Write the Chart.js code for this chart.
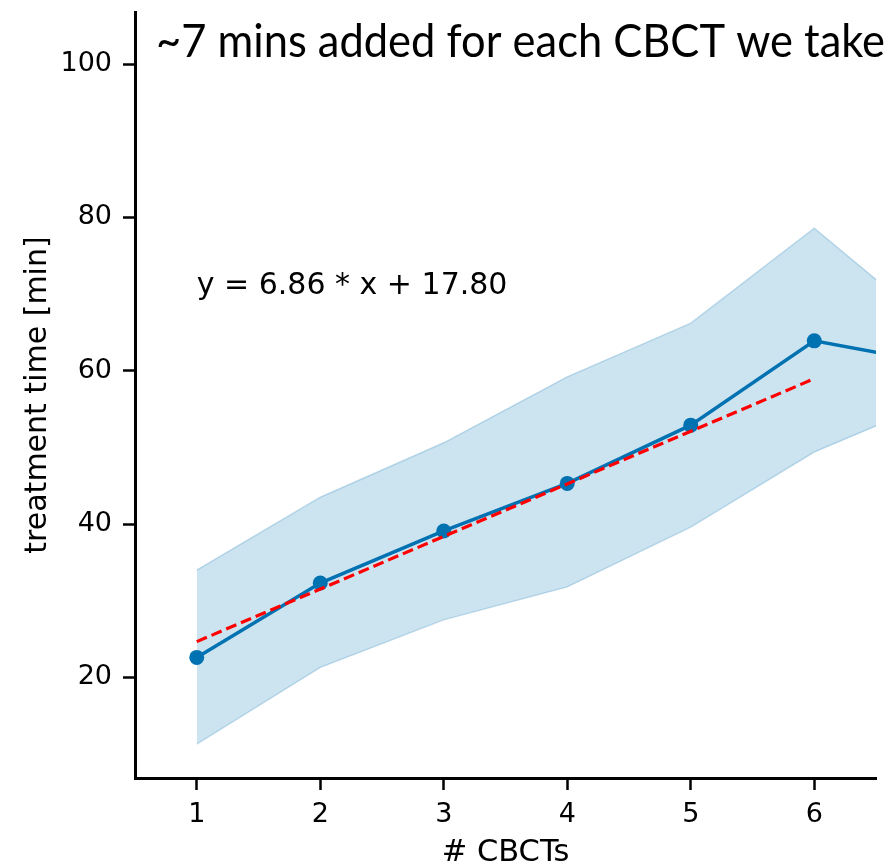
<!DOCTYPE html>
<html>
<head>
<meta charset="utf-8">
<title>Treatment time vs number of CBCTs</title>
<script src="https://cdn.jsdelivr.net/npm/chart.js@4.4.1/dist/chart.umd.min.js"></script>
<style>
  html, body { margin: 0; padding: 0; background: #ffffff; }
  #wrap { width: 896px; height: 865px; }
  canvas { display: block; }
</style>
</head>
<body>
<div id="wrap"><canvas id="chart" width="896" height="865"></canvas></div>
<script>
// Number of CBCTs acquired per treatment
const CBCTS = [1, 2, 3, 4, 5, 6, 7];
// Mean treatment time [min] per CBCT count
const MEAN_TIME = [22.6, 32.3, 39.1, 45.3, 52.9, 63.9, 60.9];
// Spread band around the mean
const BAND_UPPER = [34.0, 43.5, 50.6, 59.2, 66.2, 78.6, 65.2];
const BAND_LOWER = [11.3, 21.3, 27.5, 31.8, 39.6, 49.4, 56.2];
// Linear fit: time = slope * n + intercept
const FIT_SLOPE = 6.86;
const FIT_INTERCEPT = 17.80;
const FIT_X = [1, 6];
// Axis ticks
const X_TICKS = [1, 2, 3, 4, 5, 6];
const Y_TICKS = [20, 40, 60, 80, 100];

const TITLE_TEXT = '~7 mins added for each CBCT we take';
const FIT_LABEL = 'y = ' + FIT_SLOPE.toFixed(2) + ' * x + ' + FIT_INTERCEPT.toFixed(2);

const BLUE = '#0072b2';
const toXY = (xs, ys) => xs.map((x, i) => ({ x: x, y: ys[i] }));
const fitPoints = FIT_X.map(x => ({ x: x, y: FIT_SLOPE * x + FIT_INTERCEPT }));

// Text overlays: the headline and the fit equation
const overlayText = {
  id: 'overlayText',
  afterDraw(chart) {
    const ctx = chart.ctx;
    const xs = chart.scales.x, ys = chart.scales.y;
    ctx.save();
    // fit equation, anchored in data space
    ctx.fillStyle = '#000';
    ctx.font = '30px "DejaVu Sans"';
    ctx.textAlign = 'left';
    ctx.textBaseline = 'alphabetic';
    ctx.fillText(FIT_LABEL, xs.getPixelForValue(1), ys.getPixelForValue(70));
    // headline
    ctx.font = '47px Lato';
    const w = ctx.measureText(TITLE_TEXT).width;
    const target = 729;
    ctx.translate(156, 57);
    ctx.scale(target / w, 1);
    ctx.fillText(TITLE_TEXT, 0, 0);
    ctx.restore();
  }
};

const tickFont = { family: 'DejaVu Sans', size: 27 };
const labelFont = { family: 'DejaVu Sans', size: 30.5, lineHeight: 0.8 };

new Chart(document.getElementById('chart'), {
  type: 'scatter',
  data: {
    datasets: [
      {
        label: 'fit',
        data: fitPoints,
        showLine: true,
        borderColor: '#ff0000',
        borderWidth: 3.2,
        borderDash: [11, 5],
        pointRadius: 0,
        fill: false,
        clip: 0
      },
      {
        label: 'mean',
        data: toXY(CBCTS, MEAN_TIME),
        showLine: true,
        borderColor: BLUE,
        borderWidth: 3.5,
        pointRadius: 7.5,
        pointBackgroundColor: BLUE,
        pointBorderWidth: 0,
        fill: false,
        clip: 0
      },
      {
        label: 'upper',
        data: toXY(CBCTS, BAND_UPPER),
        showLine: true,
        borderColor: 'rgba(0,114,178,0.22)',
        borderWidth: 1.5,
        pointRadius: 0,
        fill: '+1',
        backgroundColor: 'rgba(0,114,178,0.2)',
        clip: 0
      },
      {
        label: 'lower',
        data: toXY(CBCTS, BAND_LOWER),
        showLine: true,
        borderColor: 'rgba(0,114,178,0.22)',
        borderWidth: 1.5,
        pointRadius: 0,
        fill: false,
        clip: 0
      }
    ]
  },
  plugins: [overlayText],
  options: {
    responsive: false,
    animation: false,
    events: [],
    layout: { padding: { top: 12, right: 20, left: 0, bottom: 0 } },
    plugins: {
      legend: { display: false },
      tooltip: { enabled: false },
      title: { display: false }
    },
    scales: {
      x: {
        type: 'linear',
        min: 0.5,
        max: 6.5,
        afterBuildTicks: s => { s.ticks = X_TICKS.map(v => ({ value: v })); },
        afterFit: s => { s.height = 87; s.paddingLeft = 0; s.paddingRight = 0; },
        grid: { drawOnChartArea: false, drawTicks: true, tickLength: 12, tickWidth: 2.5, tickColor: '#000' },
        border: { display: true, color: '#000', width: 3 },
        ticks: { font: tickFont, color: '#000', padding: 9, maxRotation: 0, autoSkip: false },
        title: { display: true, text: '# CBCTs', font: labelFont, color: '#000', padding: { top: 0, bottom: 0 } }
      },
      y: {
        type: 'linear',
        min: 6.87,
        max: 106.8,
        afterBuildTicks: s => { s.ticks = Y_TICKS.map(v => ({ value: v })); },
        afterFit: s => { s.width = 135; s.paddingTop = 0; s.paddingBottom = 0; },
        grid: { drawOnChartArea: false, drawTicks: true, tickLength: 12, tickWidth: 2.5, tickColor: '#000' },
        border: { display: true, color: '#000', width: 3 },
        ticks: { font: tickFont, color: '#000', padding: 11, autoSkip: false },
        title: { display: true, text: 'treatment time [min]', font: { family: 'DejaVu Sans', size: 30, lineHeight: 1.2 }, color: '#000', padding: { top: 20, bottom: 0 } }
      }
    }
  }
});
</script>
</body>
</html>
